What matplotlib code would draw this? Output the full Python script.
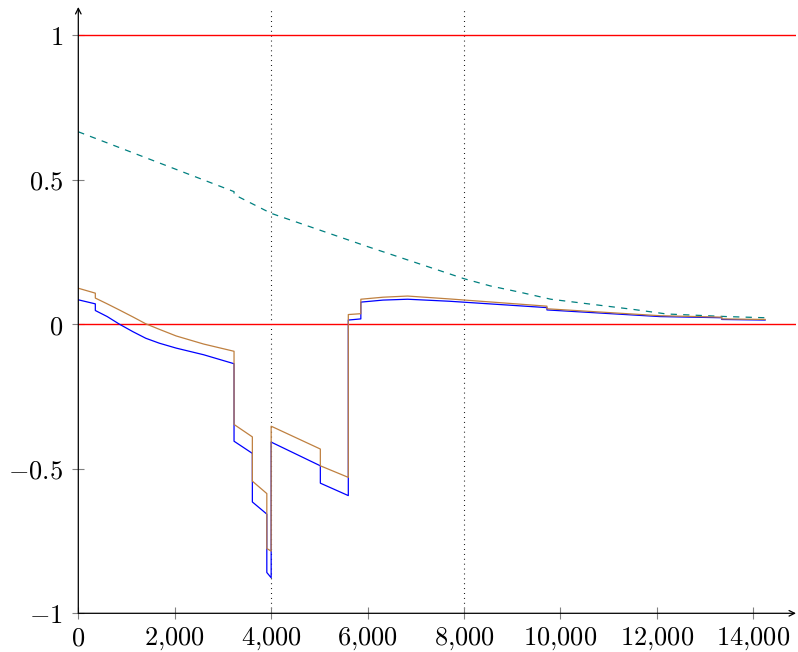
import matplotlib
matplotlib.use("Agg")
import matplotlib.pyplot as plt

plt.rcParams['mathtext.fontset'] = 'cm'

# step curves (repeated x = vertical jump)
x_steps = [0, 353, 353, 600, 850, 1130, 1400, 1680, 2030, 2600, 3230, 3230, 3610, 3610, 3910, 3910, 4000,
           4000, 5020, 5020, 5600, 5600, 5860, 5860, 6320, 6830, 7700, 9720, 9720, 12065, 13345, 13345, 14245]
blue_y = [0.084, 0.070, 0.047, 0.026, 0.0, -0.026, -0.049, -0.066, -0.083, -0.106, -0.137, -0.405, -0.447,
          -0.615, -0.657, -0.859, -0.877, -0.408, -0.490, -0.550, -0.593, 0.014, 0.018, 0.076, 0.083, 0.086,
          0.079, 0.057, 0.049, 0.026, 0.022, 0.016, 0.014]
brown_y = [0.124, 0.107, 0.090, 0.070, 0.049, 0.025, 0.001, -0.018, -0.041, -0.069, -0.094, -0.347, -0.390,
           -0.543, -0.586, -0.776, -0.785, -0.353, -0.432, -0.490, -0.530, 0.033, 0.036, 0.086, 0.093, 0.097,
           0.087, 0.062, 0.053, 0.029, 0.024, 0.018, 0.016]

# dashed teal curve
teal_x = [0, 3230, 3230, 4000, 6000, 8000, 8545, 9167, 9800, 10480, 11500, 12200, 13450, 14245]
teal_y = [0.665, 0.458, 0.448, 0.383, 0.268, 0.157, 0.132, 0.110, 0.086, 0.072, 0.051, 0.035, 0.026, 0.022]

hlines = [1, 0]
vlines = [4000, 8000]
xticks = [0, 2000, 4000, 6000, 8000, 10000, 12000, 14000]
yticks = [-1, -0.5, 0, 0.5, 1]

fig = plt.figure(figsize=(7.98, 6.52), dpi=100)
ax = fig.add_axes([78.3 / 798, 38.7 / 652, (796 - 78.3) / 798, (613.3 - 7) / 652])

for h in hlines:
    ax.axhline(h, color='red', lw=1.0, zorder=2)
for v in vlines:
    ax.axvline(v, color='black', lw=0.8, ls=(0, (0.8, 3.6)), zorder=1)

ax.plot(teal_x, teal_y, color=(0, 0.5, 0.5), lw=0.9, ls=(0, (5, 5)))
ax.plot(x_steps, blue_y, color='blue', lw=0.9)
ax.plot(x_steps, brown_y, color=(0.75, 0.5, 0.25), lw=0.9)

ax.set_xlim(0, (796 - 78.3) / 96.43 * 2000)
ax.set_ylim(-1, -1 + (613.3 - 7) / 289.2)

ax.set_xticks(xticks)
ax.set_xticklabels([r'$%s$' % f"{t:,}".replace(',', '{,}') for t in xticks])
ax.set_yticks(yticks)
ax.set_yticklabels([r'$%g$' % t for t in yticks])
ax.tick_params(direction='inout', length=8, width=0.8, color='gray', labelsize=19)
ax.tick_params(axis='y', pad=7)
ax.tick_params(axis='x', pad=5)

for s in ax.spines.values():
    s.set_visible(False)
ax.annotate('', xy=(1.0, 0), xytext=(0, 0), xycoords='axes fraction',
            arrowprops=dict(arrowstyle='->', lw=0.9, color='black', shrinkA=0, shrinkB=0))
ax.annotate('', xy=(0, 1.0), xytext=(0, 0), xycoords='axes fraction',
            arrowprops=dict(arrowstyle='->', lw=0.9, color='black', shrinkA=0, shrinkB=0))

fig.savefig('out.png', dpi=100)
